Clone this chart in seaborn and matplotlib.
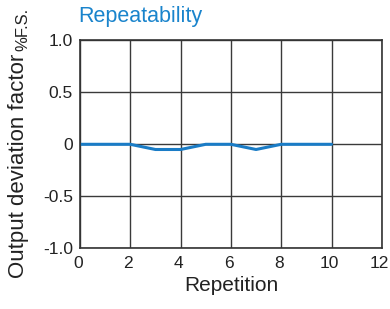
import matplotlib
matplotlib.use("Agg")
import matplotlib.pyplot as plt
import matplotlib.transforms as mtransforms
import seaborn as sns
import pandas as pd

repetition = [0, 1, 2, 3, 4, 5, 6, 7, 8, 9, 10]
deviation = [0, 0, 0, -0.05, -0.05, 0, 0, -0.05, 0, 0, 0]
x_ticks = [0, 2, 4, 6, 8, 10, 12]
y_ticks = [-1.0, -0.5, 0, 0.5, 1.0]
y_tick_labels = ["-1.0", "-0.5", "0", "0.5", "1.0"]

sns.set_style("white")
plt.rcParams['font.family'] = ['Liberation Sans', 'DejaVu Sans']

df = pd.DataFrame({"Repetition": repetition, "Deviation": deviation})

fig = plt.figure(figsize=(3.9, 3.09), dpi=100)
ax = fig.add_axes([0.205, 0.197, 0.774, 0.672])
sns.lineplot(data=df, x="Repetition", y="Deviation", ax=ax, color="#1a7cc6", linewidth=2.2)

ax.set_xlim(0, 12)
ax.set_ylim(-1.0, 1.0)
ax.set_xticks(x_ticks)
ax.set_yticks(y_ticks)
ax.set_yticklabels(y_tick_labels)
ax.grid(True, color="#3a3a3a", linewidth=1.0)
ax.set_axisbelow(True)
for s in ax.spines.values():
    s.set_color("#333333")
    s.set_linewidth(1.2)
    s.set_visible(True)
ax.tick_params(axis="both", length=0, labelsize=12.5, colors="#222222")
ax.tick_params(axis="x", pad=6)
ax.tick_params(axis="y", pad=5)
shift = mtransforms.ScaledTranslation(-2 / 100, 0, fig.dpi_scale_trans)
for lbl in ax.get_xticklabels():
    lbl.set_transform(lbl.get_transform() + shift)
ax.set_xlabel("Repetition", fontsize=15, color="#222222", labelpad=3)
ax.set_ylabel("")
fig.text(0.200, 0.948, "Repeatability", fontsize=15.5, color="#1a84cc", ha="left", va="center")
fig.text(0.047, 0.100, "Output deviation factor", rotation=90, fontsize=16, color="#222222", ha="center", va="bottom")
fig.text(0.059, 0.835, "%F.S.", rotation=90, fontsize=12, color="#222222", ha="center", va="bottom")

fig.savefig("out.png", dpi=100)
